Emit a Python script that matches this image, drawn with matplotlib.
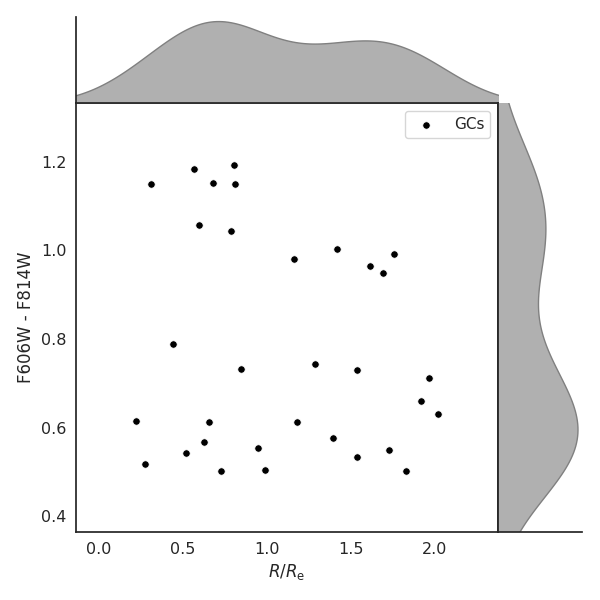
import matplotlib
matplotlib.use('Agg')
import matplotlib.pyplot as plt
import numpy as np
import seaborn as sns

sns.set_style('white')
plt.rcParams['font.size'] = 12
plt.rcParams['axes.labelsize'] = 12
plt.rcParams['xtick.labelsize'] = 11.5
plt.rcParams['ytick.labelsize'] = 11.5
plt.rcParams['legend.fontsize'] = 11

# R/Re and colour of the globular clusters
r_re = [0.312, 0.563, 0.802, 0.676, 0.808, 0.593, 0.784, 1.160, 1.417, 1.614,
        1.691, 1.757, 0.442, 0.844, 0.223, 0.653, 0.623, 0.515, 0.276, 0.724,
        0.945, 0.987, 1.285, 1.536, 1.966, 1.918, 2.020, 1.178, 1.393, 1.536,
        1.727, 1.829]
color = [1.150, 1.183, 1.193, 1.152, 1.150, 1.057, 1.043, 0.980, 1.003, 0.965,
         0.948, 0.991, 0.788, 0.732, 0.614, 0.612, 0.567, 0.542, 0.517, 0.501,
         0.553, 0.503, 0.744, 0.729, 0.711, 0.659, 0.630, 0.612, 0.576, 0.533,
         0.549, 0.501]
x = np.array(r_re)
y = np.array(color)


def kde(data, grid):
    # gaussian kde, scott bandwidth
    n = len(data)
    bw = data.std(ddof=1) * n ** (-1 / 5)
    d = (grid[:, None] - data[None, :]) / bw
    return np.exp(-0.5 * d ** 2).sum(axis=1) / (n * bw * np.sqrt(2 * np.pi))


fig = plt.figure(figsize=(6, 6), dpi=100)
ax = fig.add_axes([0.1267, 0.1133, 0.7033, 0.715])
ax_top = fig.add_axes([0.1267, 0.8283, 0.7033, 0.1434], sharex=ax)
ax_right = fig.add_axes([0.83, 0.1133, 0.14, 0.715], sharey=ax)

ax.scatter(x, y, s=28, color='black', edgecolor='white', linewidth=0.5, label='GCs')
ax.set_xlim(-0.137, 2.375)
ax.set_ylim(0.364, 1.333)
ax.set_xticks([0.0, 0.5, 1.0, 1.5, 2.0])
ax.set_yticks([0.4, 0.6, 0.8, 1.0, 1.2])
ax.set_xlabel(r'$R/R_{\rm e}$')
ax.set_ylabel('F606W - F814W')
ax.legend(loc='upper right')
for s in ax.spines.values():
    s.set_color('.15')
    s.set_linewidth(1.25)

bwx = x.std(ddof=1) * len(x) ** (-1 / 5)
gx = np.linspace(x.min() - 3 * bwx, x.max() + 3 * bwx, 200)
dx = kde(x, gx)
ax_top.fill_between(gx, 0, dx, facecolor='#b0b0b0', edgecolor='gray', linewidth=1)
ax_top.set_ylim(0, dx.max() * 1.05)

bwy = y.std(ddof=1) * len(y) ** (-1 / 5)
gy = np.linspace(y.min() - 3 * bwy, y.max() + 3 * bwy, 200)
dy = kde(y, gy)
ax_right.fill_betweenx(gy, 0, dy, facecolor='#b0b0b0', edgecolor='gray', linewidth=1)
ax_right.set_xlim(0, dy.max() * 1.05)

for a in (ax_top, ax_right):
    a.tick_params(labelbottom=False, labelleft=False, bottom=False, left=False)
    for s in a.spines.values():
        s.set_visible(False)
        s.set_color('.15')
        s.set_linewidth(1.25)
# keep the joint frame visible where the marginals overlap it
ax_top.spines['left'].set_visible(True)
ax_top.spines['bottom'].set_visible(True)
ax_right.spines['bottom'].set_visible(True)
ax_right.spines['left'].set_visible(True)

fig.savefig('out.png', dpi=100)
